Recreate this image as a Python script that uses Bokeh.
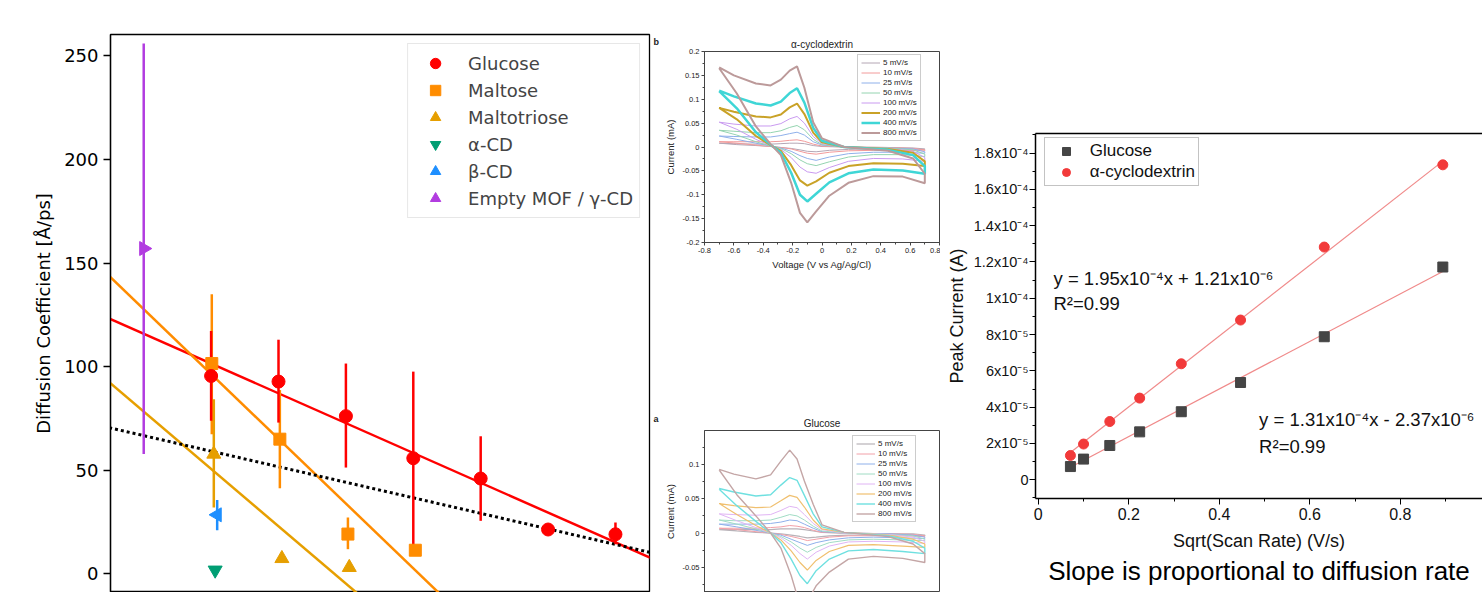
import math
from bokeh.plotting import figure
from bokeh.layouts import row, column
from bokeh.models import (Range1d, SingleIntervalTicker, CustomJSTickFormatter, Legend,
                          LegendItem, LinearAxis, Title)
from bokeh.embed import file_html
from bokeh.resources import INLINE
from bokeh.core.properties import value

# ---------------- Left panel: diffusion coefficients ----------------
glucose_x = [1, 2, 3, 4, 5, 6, 7]
glucose_y = [95.5, 92.8, 76.1, 55.8, 46.0, 21.4, 19.1]
glucose_lo = [73.9, 73.0, 51.3, 12.7, 25.6, 21.4, 14.3]
glucose_hi = [117.2, 113.0, 101.5, 97.6, 66.4, 21.4, 24.8]

maltose_x = [1.01, 2.02, 3.03, 4.03]
maltose_y = [101.5, 65.0, 19.2, 11.4]
maltose_lo = [67.4, 41.3, 11.9, 11.4]
maltose_hi = [135.0, 88.7, 27.2, 11.4]

maltotriose_x = [1.04, 2.05, 3.05]
maltotriose_y = [57.8, 7.4, 3.1]
maltotriose_lo = [32.0, 7.4, 3.1]
maltotriose_hi = [84.3, 7.4, 3.1]

acd_x = [1.06]
acd_y = [1.8]
bcd_x = [1.09]
bcd_y = [28.5]
bcd_lo = [21.1]
bcd_hi = [35.6]
mof_x = [0.0]
mof_y = [157.0]
mof_lo = [57.8]
mof_hi = [256.0]

fit_slope = [-14.39, -31.26, -27.67, -7.50]
fit_intercept = [115.9, 127.7, 78.3, 66.7]

legend_labels = ["Glucose", "Maltose", "Maltotriose", "α-CD", "β-CD", "Empty MOF / γ-CD"]

# ---------------- Middle panels: cyclic voltammograms ----------------
cv_rates = ["5 mV/s", "10 mV/s", "25 mV/s", "50 mV/s", "100 mV/s", "200 mV/s", "400 mV/s", "800 mV/s"]
v_up = [-0.70, -0.60, -0.45, -0.35, -0.28, -0.22, -0.17, -0.12, -0.06, 0.00, 0.15, 0.45, 0.62, 0.70]
v_down = [0.70, 0.55, 0.35, 0.18, 0.05, -0.04, -0.10, -0.15, -0.21, -0.28, -0.35, -0.45, -0.58, -0.70]

acd_up = [
    [0.008, 0.007, 0.006, 0.006, 0.007, 0.008, 0.008, 0.007, 0.003, 0.001, 0.000, -0.001, -0.002, -0.004],
    [0.011, 0.011, 0.011, 0.011, 0.012, 0.014, 0.015, 0.012, 0.006, 0.002, 0.000, -0.001, -0.003, -0.006],
    [0.023, 0.022, 0.021, 0.021, 0.024, 0.028, 0.031, 0.025, 0.011, 0.004, 0.000, -0.002, -0.004, -0.010],
    [0.035, 0.033, 0.030, 0.030, 0.034, 0.041, 0.045, 0.036, 0.016, 0.005, 0.000, -0.002, -0.006, -0.015],
    [0.052, 0.048, 0.044, 0.044, 0.049, 0.059, 0.064, 0.050, 0.022, 0.007, 0.000, -0.003, -0.009, -0.022],
    [0.082, 0.074, 0.064, 0.062, 0.068, 0.083, 0.091, 0.069, 0.030, 0.010, 0.000, -0.004, -0.012, -0.030],
    [0.118, 0.106, 0.091, 0.087, 0.095, 0.113, 0.123, 0.093, 0.040, 0.013, 0.000, -0.006, -0.017, -0.040],
    [0.167, 0.150, 0.133, 0.129, 0.141, 0.160, 0.169, 0.124, 0.052, 0.018, 0.000, -0.008, -0.024, -0.056],
]
acd_down = [
    [-0.005, -0.004, -0.004, -0.005, -0.007, -0.010, -0.009, -0.006, -0.003, -0.001, 0.001, 0.003, 0.005, 0.008],
    [-0.008, -0.007, -0.007, -0.008, -0.011, -0.015, -0.013, -0.009, -0.004, -0.001, 0.001, 0.004, 0.008, 0.011],
    [-0.013, -0.011, -0.011, -0.014, -0.021, -0.028, -0.024, -0.018, -0.009, -0.002, 0.002, 0.008, 0.016, 0.023],
    [-0.020, -0.016, -0.016, -0.021, -0.031, -0.039, -0.035, -0.027, -0.014, -0.003, 0.002, 0.011, 0.025, 0.035],
    [-0.030, -0.025, -0.024, -0.030, -0.043, -0.055, -0.052, -0.042, -0.022, -0.005, 0.003, 0.016, 0.037, 0.052],
    [-0.040, -0.035, -0.034, -0.040, -0.054, -0.072, -0.081, -0.070, -0.038, -0.008, 0.004, 0.023, 0.058, 0.082],
    [-0.056, -0.049, -0.047, -0.055, -0.074, -0.098, -0.114, -0.100, -0.054, -0.012, 0.005, 0.031, 0.081, 0.117],
    [-0.076, -0.062, -0.061, -0.075, -0.102, -0.135, -0.158, -0.138, -0.075, -0.017, 0.006, 0.043, 0.112, 0.165],
]
glu_up = [
    [0.005, 0.005, 0.005, 0.005, 0.006, 0.006, 0.006, 0.005, 0.003, 0.001, 0.000, -0.001, -0.001, -0.003],
    [0.007, 0.007, 0.007, 0.008, 0.009, 0.011, 0.010, 0.008, 0.004, 0.001, 0.000, -0.001, -0.002, -0.004],
    [0.013, 0.013, 0.013, 0.014, 0.016, 0.019, 0.018, 0.013, 0.007, 0.002, 0.000, -0.001, -0.003, -0.006],
    [0.019, 0.018, 0.018, 0.019, 0.023, 0.027, 0.025, 0.019, 0.010, 0.003, 0.000, -0.002, -0.004, -0.009],
    [0.028, 0.027, 0.026, 0.027, 0.033, 0.039, 0.037, 0.027, 0.014, 0.005, 0.000, -0.002, -0.006, -0.012],
    [0.043, 0.040, 0.037, 0.038, 0.047, 0.055, 0.052, 0.038, 0.019, 0.006, 0.001, -0.003, -0.009, -0.016],
    [0.065, 0.060, 0.054, 0.056, 0.070, 0.081, 0.077, 0.055, 0.028, 0.009, 0.001, -0.004, -0.012, -0.022],
    [0.093, 0.086, 0.079, 0.085, 0.105, 0.121, 0.108, 0.076, 0.042, 0.012, 0.001, -0.005, -0.016, -0.030],
]
glu_down = [
    [-0.004, -0.003, -0.003, -0.003, -0.004, -0.006, -0.007, -0.005, -0.003, -0.001, 0.000, 0.001, 0.003, 0.005],
    [-0.005, -0.004, -0.004, -0.004, -0.006, -0.009, -0.011, -0.008, -0.005, -0.002, 0.000, 0.002, 0.005, 0.007],
    [-0.008, -0.007, -0.006, -0.007, -0.010, -0.014, -0.018, -0.014, -0.009, -0.003, 0.000, 0.004, 0.009, 0.013],
    [-0.011, -0.010, -0.009, -0.010, -0.014, -0.021, -0.028, -0.022, -0.013, -0.005, 0.000, 0.006, 0.013, 0.019],
    [-0.015, -0.013, -0.012, -0.013, -0.019, -0.028, -0.038, -0.030, -0.018, -0.007, 0.000, 0.008, 0.018, 0.028],
    [-0.021, -0.019, -0.017, -0.018, -0.027, -0.040, -0.054, -0.043, -0.026, -0.010, 0.000, 0.011, 0.027, 0.043],
    [-0.030, -0.027, -0.024, -0.026, -0.038, -0.055, -0.074, -0.062, -0.038, -0.014, 0.000, 0.017, 0.040, 0.064],
    [-0.043, -0.037, -0.034, -0.038, -0.057, -0.077, -0.100, -0.105, -0.062, -0.022, 0.000, 0.025, 0.056, 0.092],
]
acd_colors = ["#b4a6b4", "#f29a9a", "#8fb0ea", "#94d4b0", "#c99af0", "#c9a227", "#3fd6d6", "#bc9a9a"]
acd_widths = [1, 1, 1, 1, 1, 2, 2.5, 2]
glu_colors = ["#b8b2b8", "#f2a0a8", "#8fb0ea", "#a0dcc4", "#e0b4f4", "#f0c070", "#6fe0e0", "#c4a6a6"]
glu_widths = [1.2, 1, 1, 1, 1, 1.2, 1.4, 1.4]

# ---------------- Right panel: peak current vs sqrt(scan rate) ----------------
scan_sqrt = [0.071, 0.100, 0.158, 0.224, 0.316, 0.447, 0.632, 0.894]
glu_peak = [7.3e-6, 1.14e-5, 1.89e-5, 2.64e-5, 3.75e-5, 5.36e-5, 7.88e-5, 1.172e-4]
acd_peak = [1.34e-5, 1.97e-5, 3.21e-5, 4.50e-5, 6.39e-5, 8.80e-5, 1.282e-4, 1.735e-4]
peak_fit_slope = [1.31e-4, 1.95e-4]
peak_fit_intercept = [-2.37e-6, 1.21e-6]
ann_text = ["y = 1.95x10⁻⁴x + 1.21x10⁻⁶", "R²=0.99", "y = 1.31x10⁻⁴x - 2.37x10⁻⁶", "R²=0.99"]
ann_x = [0.0336, 0.0336, 0.488, 0.488]
ann_y = [1.110e-4, 9.72e-5, 3.32e-5, 1.81e-5]

# ---------------- styling constants ----------------
C_GLU, C_MAL, C_MTR = "#ff0000", "#ff8c00", "#e69f00"
C_ACD, C_BCD, C_MOF = "#009e73", "#1e8fff", "#b23ce0"
MPL = "DejaVu Sans"
ORG = "Liberation Sans"

# ======================= Left figure =======================
p1 = figure(width=652, height=592, x_range=Range1d(-0.493, 7.505), y_range=Range1d(-9.0, 260.3),
            x_axis_location=None, output_backend="svg", toolbar_location=None,
            min_border_left=110, min_border_right=3, min_border_top=34, min_border_bottom=0)
p1.frame_align = False
p1.grid.visible = False
p1.outline_line_color = "black"
p1.outline_line_width = 1.3
ay = p1.yaxis[0]
ay.ticker = SingleIntervalTicker(interval=50, num_minor_ticks=0)
ay.axis_label = "Diffusion Coefficient [Å/ps]"
ay.axis_label_text_font = MPL
ay.axis_label_text_font_size = "18px"
ay.axis_label_text_font_style = "normal"
ay.axis_label_text_color = "black"
ay.major_label_text_font = MPL
ay.major_label_text_font_size = "18px"
ay.major_label_text_color = "black"
ay.major_tick_out = 7
ay.major_tick_in = 0
ay.minor_tick_out = 0
ay.minor_tick_in = 0
ay.major_label_standoff = 5
ay.axis_label_standoff = 7
ay.axis_line_color = "black"
ay.axis_line_width = 1.3
ay.major_tick_line_color = "black"
ay.major_tick_line_width = 1.3

xl = [-0.6, 7.6]
fit_colors = [C_GLU, C_MAL, C_MTR, "black"]
for s, b, c in zip(fit_slope, fit_intercept, fit_colors):
    if c == "black":
        p1.line(xl, [s * x + b for x in xl], line_color=c, line_width=3, line_dash="3 3")
    else:
        p1.line(xl, [s * x + b for x in xl], line_color=c, line_width=2.5)

for xs, lo, hi, c in [(maltotriose_x, maltotriose_lo, maltotriose_hi, C_MTR),
                      (maltose_x, maltose_lo, maltose_hi, C_MAL),
                      (mof_x, mof_lo, mof_hi, C_MOF),
                      (bcd_x, bcd_lo, bcd_hi, C_BCD),
                      (glucose_x, glucose_lo, glucose_hi, C_GLU)]:
    p1.segment(x0=xs, y0=lo, x1=xs, y1=hi, line_color=c, line_width=2.5, line_cap="butt")

r_mtr = p1.scatter(maltotriose_x, maltotriose_y, marker="triangle", size=14, color=C_MTR)
r_mal = p1.scatter(maltose_x, maltose_y, marker="square", size=12, color=C_MAL)
r_acd = p1.scatter(acd_x, acd_y, marker="inverted_triangle", size=14, color=C_ACD)
r_bcd = p1.scatter(bcd_x, bcd_y, marker="triangle", angle=math.pi / 2, size=14, color=C_BCD)
r_mof = p1.scatter(mof_x, mof_y, marker="triangle", angle=-math.pi / 2, size=14, color=C_MOF)
r_glu = p1.scatter(glucose_x, glucose_y, marker="circle", size=13, color=C_GLU)

leg1 = Legend(items=[LegendItem(label=l, renderers=[r]) for l, r in
                     zip(legend_labels, [r_glu, r_mal, r_mtr, r_acd, r_bcd, r_mof])],
              location="top_right")
leg1.margin = 9
leg1.padding = 6
leg1.spacing = 1
leg1.glyph_height = 26
leg1.glyph_width = 42
leg1.label_height = 26
leg1.label_standoff = 12
leg1.label_text_font = MPL
leg1.label_text_font_size = "18px"
leg1.border_line_color = "#d0d0d0"
leg1.border_line_width = 1
leg1.background_fill_alpha = 0.85
p1.add_layout(leg1)


# ======================= Middle figures =======================
def style_cv_axis(ax, interval, label):
    ax.ticker = SingleIntervalTicker(interval=interval, num_minor_ticks=2)
    ax.formatter = CustomJSTickFormatter(code="return String(Number(tick.toFixed(3)));")
    ax.axis_label = label
    ax.axis_label_text_font = ORG
    ax.axis_label_text_font_size = "9.5px"
    ax.axis_label_text_font_style = "normal"
    ax.axis_label_text_color = "#222222"
    ax.axis_label_standoff = 3
    ax.major_label_text_font = ORG
    ax.major_label_text_font_size = "7.5px"
    ax.major_label_text_color = "#222222"
    ax.major_label_standoff = 2
    ax.major_tick_out = 3
    ax.major_tick_in = 0
    ax.minor_tick_out = 2
    ax.minor_tick_in = 0
    ax.axis_line_color = "#444444"
    ax.major_tick_line_color = "#444444"
    ax.minor_tick_line_color = "#444444"


def make_cv(height, yr, mb_top, mb_bot, show_x, title, up, down, colors, widths, leg_loc):
    p = figure(width=278, height=height, x_range=Range1d(-0.8, 0.8), y_range=Range1d(*yr),
               x_axis_location=("below" if show_x else None), output_backend="svg",
               toolbar_location=None, min_border_left=42, min_border_right=1,
               min_border_top=mb_top, min_border_bottom=mb_bot)
    p.frame_align = False
    p.grid.visible = False
    p.outline_line_color = "#444444"
    p.outline_line_width = 1
    p.title.text = title
    p.title.align = "center"
    p.title.text_font = ORG
    p.title.text_font_size = "10px"
    p.title.text_font_style = "normal"
    p.title.text_color = "#222222"
    p.title.standoff = 3
    if show_x:
        style_cv_axis(p.xaxis[0], 0.2, "Voltage (V vs Ag/Ag/Cl)")
    style_cv_axis(p.yaxis[0], 0.05, "Current (mA)")
    items = []
    for i in range(len(cv_rates)):
        r = p.line(v_up + v_down, up[i] + down[i], line_color=colors[i], line_width=widths[i])
        items.append(LegendItem(label=cv_rates[i], renderers=[r]))
    leg = Legend(items=items, location=leg_loc)
    leg.padding = 3
    leg.spacing = 1
    leg.glyph_height = 9
    leg.glyph_width = 19
    leg.label_height = 9
    leg.label_standoff = 3
    leg.label_text_font = ORG
    leg.label_text_font_size = "8px"
    leg.label_text_color = "#222222"
    leg.border_line_color = "#999999"
    leg.border_line_width = 1
    p.add_layout(leg)
    return p


def make_letter(height, letter, y_px):
    # a narrow strip that carries the panel letter ("a" / "b") left of the voltammogram
    f = figure(width=10, height=height, x_range=Range1d(0, 10), y_range=Range1d(0, height),
               x_axis_location=None, y_axis_location=None, output_backend="svg",
               toolbar_location=None, min_border=0)
    f.frame_align = False
    f.grid.visible = False
    f.outline_line_color = None
    f.text(x=[1], y=[height - y_px], text=[letter], text_font=value(ORG), text_font_size="9px",
           text_font_style="bold", text_baseline="middle", text_align="left", text_color="#222222")
    return f


p2 = make_cv(283, (-0.2, 0.2), 51, 41, True, "α-cyclodextrin",
             acd_up, acd_down, acd_colors, acd_widths, (153, 101))
p4 = make_cv(309, (-0.0868, 0.1497), 147, 0, False, "Glucose",
             glu_up, glu_down, glu_colors, glu_widths, (148, 70))
fb = make_letter(283, "b", 41)
fa = make_letter(309, "a", 135)

# ======================= Right figure =======================
p3 = figure(width=542, height=592, x_range=Range1d(-0.0062, 0.9817), y_range=Range1d(-1.03e-5, 1.9075e-4),
            output_backend="svg", toolbar_location=None,
            min_border_left=95, min_border_right=0, min_border_top=133, min_border_bottom=94)
p3.frame_align = False
p3.grid.visible = False
p3.outline_line_color = None

ax3 = p3.xaxis[0]
ax3.ticker = SingleIntervalTicker(interval=0.2, num_minor_ticks=2)
ax3.formatter = CustomJSTickFormatter(code="return String(Number(tick.toFixed(3)));")
ax3.axis_label = "Sqrt(Scan Rate) (V/s)"
ay3 = p3.yaxis[0]
ay3.ticker = SingleIntervalTicker(interval=2e-5, num_minor_ticks=2)
ay3.formatter = CustomJSTickFormatter(code="""
if (Math.abs(tick) < 1e-12) { return "0"; }
var e = Math.floor(Math.log10(Math.abs(tick)) + 1e-9);
var m = Number((tick / Math.pow(10, e)).toFixed(2));
var sup = {"-": "\u207b", "0": "\u2070", "1": "\u00b9", "2": "\u00b2", "3": "\u00b3", "4": "\u2074",
           "5": "\u2075", "6": "\u2076", "7": "\u2077", "8": "\u2078", "9": "\u2079"};
var es = String(e).split("").map(function (c) { return sup[c]; }).join("");
return m + "x10" + es;
""")
ay3.axis_label = "Peak Current (A)"
for ax in (ax3, ay3):
    ax.axis_label_text_font = ORG
    ax.axis_label_text_font_size = "18px"
    ax.axis_label_text_font_style = "normal"
    ax.axis_label_text_color = "#111111"
    ax.major_label_text_font = ORG
    ax.major_label_text_font_size = "14.5px"
    ax.major_label_text_color = "#111111"
    ax.major_tick_out = 6
    ax.major_tick_in = 0
    ax.minor_tick_out = 3
    ax.minor_tick_in = 0
    ax.axis_line_color = "black"
    ax.axis_line_width = 1.5
    ax.major_tick_line_color = "black"
    ax.minor_tick_line_color = "black"
ax3.major_label_text_font_size = "16px"
ax3.major_label_standoff = 3
ax3.axis_label_standoff = 8
ay3.major_label_standoff = 1
ay3.axis_label_standoff = 4

top_ax = LinearAxis(major_tick_in=0, major_tick_out=0, minor_tick_in=0, minor_tick_out=0,
                    major_label_text_font_size="0px", major_label_text_color=None,
                    axis_line_color="black", axis_line_width=1.5)
p3.add_layout(top_ax, "above")

xf = [scan_sqrt[0], scan_sqrt[-1]]
for s, b in zip(peak_fit_slope, peak_fit_intercept):
    p3.line(xf, [s * x + b for x in xf], line_color="#f08a8a", line_width=1.2)
r_g = p3.scatter(scan_sqrt, glu_peak, marker="square", size=10, color="#454545")
r_a = p3.scatter(scan_sqrt, acd_peak, marker="circle", size=10, color="#f23a3a")
p3.text(x=ann_x, y=ann_y, text=ann_text, text_font=value(ORG), text_font_size="18.5px",
        text_baseline="middle", text_align="left", text_color="#111111")

leg3 = Legend(items=[LegendItem(label="Glucose", renderers=[r_g]),
                     LegendItem(label="α-cyclodextrin", renderers=[r_a])],
              location=(8.7, 312.3))
leg3.padding = 3
leg3.spacing = 1
leg3.glyph_height = 20
leg3.glyph_width = 36
leg3.label_height = 20
leg3.label_standoff = 6
leg3.label_text_font = ORG
leg3.label_text_font_size = "17px"
leg3.label_text_color = "#111111"
leg3.border_line_color = "#888888"
leg3.border_line_width = 1
p3.add_layout(leg3)

p3.add_layout(Title(text="Slope is proportional to diffusion rate", align="center",
                    text_font=ORG, text_font_size="26px", text_font_style="normal",
                    text_color="black", standoff=0), "below")

layout = row(p1, column(row(fb, p2), row(fa, p4)), p3)
open("out.html", "w").write(file_html(layout, INLINE))
